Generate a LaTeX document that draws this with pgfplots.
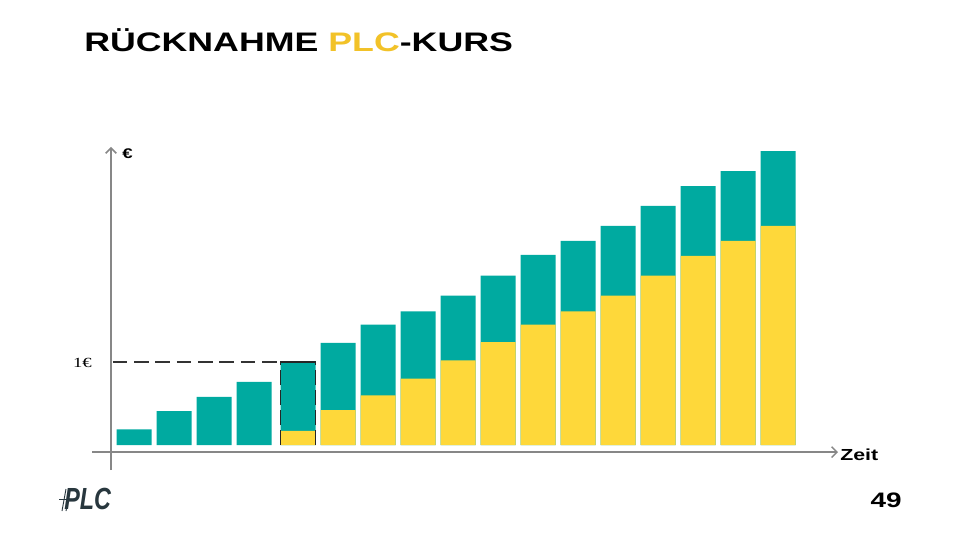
\documentclass[border=0pt]{standalone}
\usepackage{fontspec}
\setmainfont{Liberation Sans}[FakeStretch=1.333]
\newfontfamily\serifst{Liberation Serif}[FakeStretch=1.333]
\newfontfamily\logofont{Liberation Sans}
\usepackage{graphicx}
\usepackage{pgfplots}
\pgfplotsset{compat=1.18}
\usetikzlibrary{arrows.meta}
\definecolor{tealbar}{RGB}{0,170,160}
\definecolor{yellowbar}{RGB}{254,216,58}
\definecolor{titleyellow}{RGB}{242,194,40}
\definecolor{axgray}{RGB}{135,135,135}
\definecolor{logocol}{RGB}{40,55,62}
\begin{document}
\begin{tikzpicture}[x=0.75pt,y=0.75pt]
\fill[white] (0,0) rectangle (960,540);
\path[use as bounding box] (0,0) rectangle (960,540);
% title
\node[anchor=base west, inner sep=0pt, font=\fontsize{20.1pt}{24pt}\selectfont\bfseries] at (84,488)
  {RÜCKNAHME \textcolor{titleyellow}{PLC}-KURS};
\begin{axis}[
  at={(69pt,52.5pt)}, anchor=south west,
  scale only axis, width=559.5pt, height=242.25pt,
  xmin=-0.05, xmax=18.6, ymin=-0.30, ymax=3.59,
  hide axis, clip=false,
  ybar, bar width=0.875, bar shift=0pt,
]
% axes lines
\draw[axgray, line width=1.1pt, -{Straight Barb[length=4pt,width=8pt]}] (axis cs:-0.05,-0.084) -- (axis cs:18.6,-0.084);
\draw[axgray, line width=1.1pt, -{Straight Barb[length=4pt,width=8pt]}] (axis cs:0.425,-0.30) -- (axis cs:0.425,3.59);
% total (teal) bars
\addplot[fill=tealbar, draw=none] coordinates {
(1,0.19) (2,0.41) (3,0.58) (4,0.76) (5.1,1.00) (6.1,1.23) (7.1,1.45) (8.1,1.61)
(9.1,1.80) (10.1,2.04) (11.1,2.29) (12.1,2.46) (13.1,2.64) (14.1,2.88) (15.1,3.12)
(16.1,3.30) (17.1,3.54)};
% yellow bars
\addplot[fill=yellowbar, draw=none] coordinates {
(5.1,0.17) (6.1,0.42) (7.1,0.60) (8.1,0.80) (9.1,1.02) (10.1,1.24) (11.1,1.45)
(12.1,1.61) (13.1,1.80) (14.1,2.04) (15.1,2.28) (16.1,2.46) (17.1,2.64)};
% 1 euro dashed guide
\draw[black!80, line width=1.1pt, dash pattern=on 11pt off 5pt] (axis cs:0.47,1) -- (axis cs:4.66,1);
\draw[black!85, line width=1.1pt, dash pattern=on 11pt off 4pt] (axis cs:4.66,0) -- (axis cs:4.66,1);
\draw[black!85, line width=1.1pt, dash pattern=on 11pt off 4pt] (axis cs:5.54,0) -- (axis cs:5.54,1);
\draw[black!85, line width=1.1pt] (axis cs:4.66,1) -- (axis cs:5.54,1);
\end{axis}
% labels
\node[anchor=base west, inner sep=0pt, font=\fontsize{10.5pt}{12pt}\selectfont\bfseries] at (122,381) {€};
\node[anchor=base east, inner sep=0pt, font=\fontsize{10.5pt}{12pt}\selectfont\serifst] at (92,173) {1€};
\node[anchor=base west, inner sep=0pt, font=\fontsize{12pt}{14pt}\selectfont\bfseries] at (840,80) {Zeit};
\node[anchor=base east, inner sep=0pt, font=\fontsize{15.7pt}{18pt}\selectfont\bfseries] at (902,33) {49};
% logo
\node[anchor=south west, inner sep=0pt, text=logocol] at (64,30)
  {\resizebox{35pt}{16pt}{\logofont\bfseries\itshape PLC}};
\draw[logocol, line width=0.7pt] (66,29) -- (70,51);
\draw[logocol, line width=0.7pt] (62,29) -- (66,51);
\draw[logocol, line width=0.6pt] (59,41) -- (73,41);
\end{tikzpicture}
\end{document}
